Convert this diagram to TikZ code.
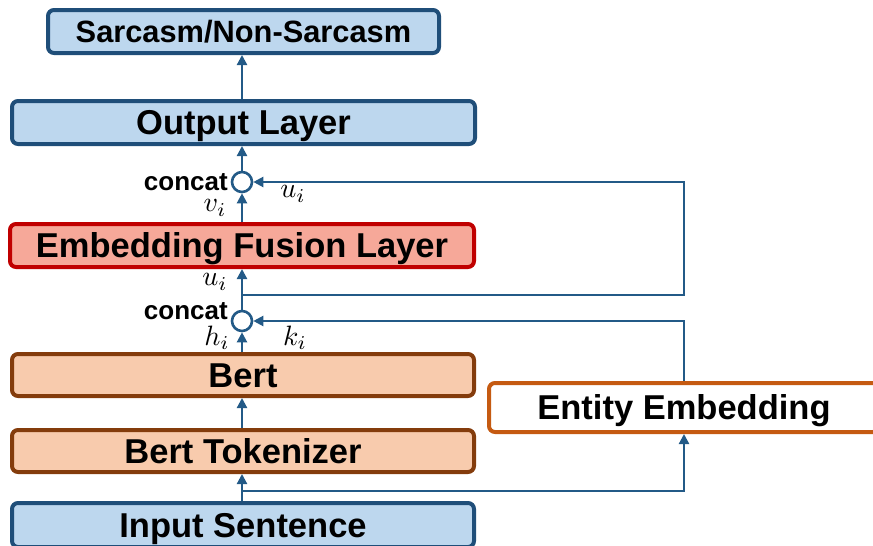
\documentclass[tikz,border=0pt]{standalone}
\usepackage{graphicx}
\usepackage{fontspec}
\setmainfont{Liberation Sans}
\usetikzlibrary{arrows.meta,calc}
\definecolor{bfill}{HTML}{BDD7EE}
\definecolor{bdraw}{HTML}{1F4E79}
\definecolor{ffill}{HTML}{F6A899}
\definecolor{fdraw}{HTML}{C00000}
\definecolor{ofill}{HTML}{F8CBAD}
\definecolor{odraw}{HTML}{843C0C}
\definecolor{edraw}{HTML}{C55A11}
\definecolor{conn}{HTML}{235A87}
\newcommand{\mlab}[1]{\scalebox{2.8}{$#1$}}
\tikzset{
  box/.style={draw, line width=4pt, rounded corners=6pt, inner sep=0pt, text height=24.8pt, text depth=0pt, font=\bfseries\fontsize{34.5}{40}\selectfont},
  bluebox/.style={box, draw=bdraw, fill=bfill},
  fusbox/.style={box, draw=fdraw, fill=ffill},
  bertbox/.style={box, draw=odraw, fill=ofill},
  entbox/.style={box, draw=edraw, fill=white},
  arr/.style={draw=conn, line width=2.2pt, -{Triangle[length=10pt,width=10pt]}},
  circ/.style={circle, draw=conn, line width=2.6pt, fill=white, minimum size=20pt, inner sep=0pt},
  cat/.style={font=\bfseries\fontsize{26}{30}\selectfont, inner sep=0pt, text height=18.7pt, text depth=0pt},
  lab/.style={inner sep=0pt}
}
\begin{document}
\begin{tikzpicture}[x=1pt,y=-1pt]
\useasboundingbox (0,0) rectangle (873,546);
\clip (0,0) rectangle (873,546);
\node[bluebox, minimum width=391pt, minimum height=43pt, text height=22.2pt, font=\bfseries\fontsize{30.8}{36}\selectfont] (sar) at (243.5,31.5) {Sarcasm/Non-Sarcasm};
\node[bluebox, minimum width=463pt, minimum height=43pt] (out) at (243.5,122.5) {Output Layer};
\node[fusbox, minimum width=464pt, minimum height=43pt] (fus) at (242,245.5) {Embedding Fusion Layer};
\node[bertbox, minimum width=462pt, minimum height=42pt] (bert) at (243,375) {Bert};
\node[bertbox, minimum width=462pt, minimum height=42pt] (tok) at (243,451) {Bert Tokenizer};
\node[bluebox, minimum width=462pt, minimum height=44pt] (in) at (243,525) {Input Sentence};
\node[entbox, minimum width=390pt, minimum height=49pt] (ent) at (684,407.5) {Entity Embedding};
\node[circ] (c1) at (242,182) {};
\node[circ] (c2) at (242,321) {};
\coordinate (b1) at (242,491);
\coordinate (b2) at (242,295);
\node[cat, anchor=east] (cat1) at (228,181.5) {concat};
\node[cat, anchor=east] (cat2) at (228,310) {concat};
\node[lab] (v1) at (215,208) {\mlab{v_i}};
\node[lab] (u1) at (293,194) {\mlab{u_i}};
\node[lab] (u2) at (215,282) {\mlab{u_i}};
\node[lab] (h1) at (217,338) {\mlab{h_i}};
\node[lab] (k1) at (295,338) {\mlab{k_i}};
\draw[arr] (in.north -| c2) -- (tok.south -| c2);
\draw[arr] (tok.north -| c2) -- (bert.south -| c2);
\draw[arr] (bert.north -| c2) -- (c2);
\draw[arr] (c2) -- (fus.south -| c2);
\draw[arr] (fus.north -| c1) -- (c1);
\draw[arr] (c1) -- (out.south -| c1);
\draw[arr] (out.north -| c1) -- (sar.south -| c1);
\draw[arr] (b1) -| (ent.south);
\draw[arr] (ent.north) |- (c2.east);
\draw[arr] (b2) -- (b2 -| ent.north) -- (c1 -| ent.north) -- (c1.east);
\end{tikzpicture}
\end{document}
